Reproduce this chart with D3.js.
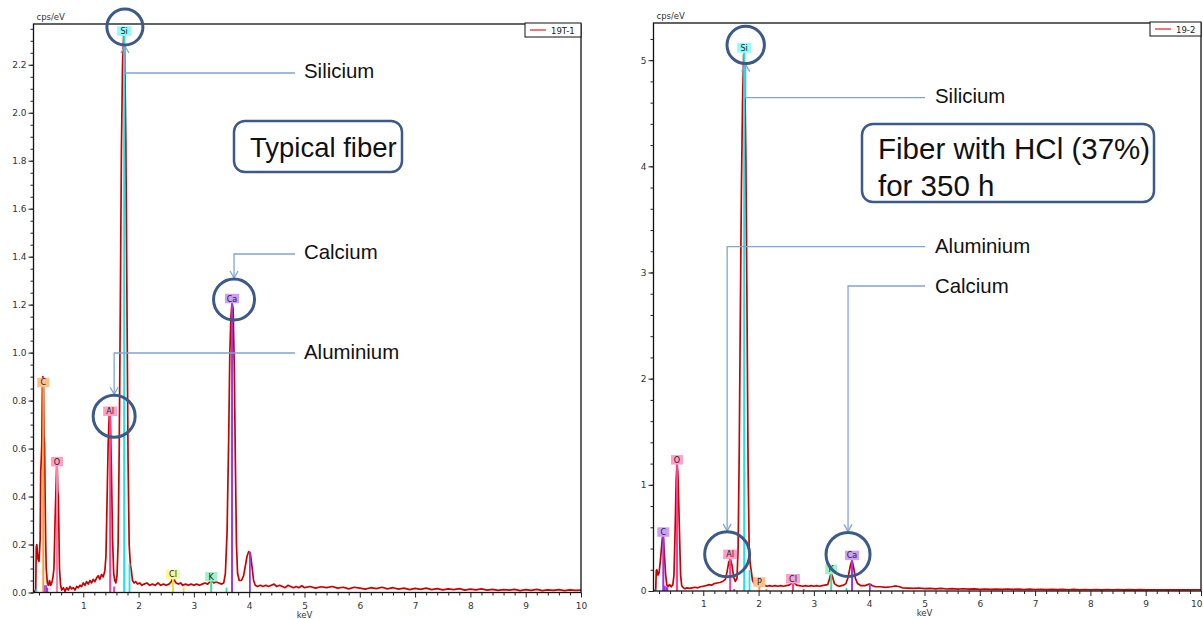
<!DOCTYPE html>
<html>
<head>
<meta charset="utf-8">
<script src="https://cdn.jsdelivr.net/npm/d3@7"></script>
<style>
body { margin: 0; background: #fff; }
svg { display: block; font-family: "DejaVu Sans", Verdana, sans-serif; }
</style>
</head>
<body>
<svg id="chart" width="1203" height="619"></svg>
<script>
// ---- data ----
var kevRange = [0.1, 10];
var kevMajor = [1, 2, 3, 4, 5, 6, 7, 8, 9, 10];

// typical fiber (19T-1): [keV, cps/eV]
var spectrumL = [[0.10,0.00],[0.14,0.01],[0.15,0.19],[0.16,0.20],[0.18,0.14],[0.20,0.13],[0.22,0.22],[0.23,0.50],[0.24,0.55],[0.25,0.62],[0.26,0.85],[0.27,0.90],[0.28,0.88],[0.29,0.65],[0.30,0.62],[0.31,0.40],[0.32,0.22],[0.33,0.10],[0.35,0.04],[0.37,0.03],[0.39,0.05],[0.41,0.03],[0.43,0.04],[0.45,0.06],[0.47,0.10],[0.49,0.30],[0.51,0.46],[0.52,0.54],[0.53,0.52],[0.54,0.42],[0.55,0.40],[0.56,0.25],[0.57,0.10],[0.59,0.03],[0.61,0.01],[0.64,0.02],[0.67,0.005],[0.70,0.02],[0.73,0.01],[0.76,0.025],[0.79,0.015],[0.82,0.02],[0.85,0.01],[0.88,0.025],[0.91,0.02],[0.94,0.03],[0.97,0.025],[1.00,0.04],[1.03,0.03],[1.06,0.045],[1.09,0.035],[1.12,0.05],[1.15,0.04],[1.18,0.055],[1.21,0.045],[1.24,0.06],[1.27,0.07],[1.30,0.055],[1.33,0.075],[1.36,0.065],[1.39,0.09],[1.41,0.15],[1.43,0.38],[1.45,0.62],[1.47,0.74],[1.49,0.72],[1.51,0.50],[1.53,0.22],[1.55,0.08],[1.57,0.05],[1.59,0.04],[1.61,0.07],[1.63,0.20],[1.65,0.60],[1.67,1.20],[1.69,1.85],[1.71,2.20],[1.73,2.32],[1.75,2.25],[1.77,1.88],[1.79,1.20],[1.81,0.55],[1.83,0.20],[1.85,0.12],[1.87,0.09],[1.89,0.05],[1.92,0.04],[1.95,0.045],[1.98,0.035],[2.02,0.04],[2.06,0.03],[2.10,0.035],[2.15,0.04],[2.20,0.03],[2.25,0.035],[2.30,0.03],[2.35,0.04],[2.40,0.03],[2.45,0.035],[2.50,0.03],[2.55,0.035],[2.59,0.045],[2.62,0.06],[2.65,0.05],[2.68,0.04],[2.72,0.035],[2.76,0.04],[2.80,0.03],[2.85,0.035],[2.90,0.03],[2.95,0.035],[3.00,0.03],[3.05,0.035],[3.10,0.03],[3.15,0.035],[3.20,0.04],[3.25,0.035],[3.29,0.045],[3.32,0.05],[3.36,0.04],[3.40,0.045],[3.45,0.04],[3.50,0.035],[3.54,0.04],[3.57,0.08],[3.60,0.25],[3.63,0.65],[3.65,1.00],[3.67,1.15],[3.69,1.21],[3.71,1.18],[3.73,0.95],[3.75,0.55],[3.77,0.20],[3.79,0.08],[3.82,0.05],[3.86,0.05],[3.90,0.07],[3.93,0.11],[3.96,0.15],[3.99,0.17],[4.02,0.165],[4.05,0.11],[4.08,0.05],[4.11,0.03],[4.15,0.025],[4.20,0.03],[4.25,0.025],[4.30,0.03],[4.35,0.025],[4.40,0.03],[4.45,0.035],[4.50,0.025],[4.55,0.03],[4.60,0.025],[4.65,0.02],[4.70,0.03],[4.75,0.025],[4.80,0.02],[4.85,0.025],[4.90,0.02],[4.95,0.028],[5.00,0.02],[5.10,0.025],[5.20,0.018],[5.30,0.024],[5.40,0.02],[5.50,0.025],[5.60,0.018],[5.70,0.022],[5.80,0.015],[5.90,0.022],[6.00,0.018],[6.10,0.014],[6.20,0.02],[6.30,0.016],[6.40,0.022],[6.50,0.015],[6.60,0.02],[6.70,0.014],[6.80,0.018],[6.90,0.012],[7.00,0.017],[7.10,0.013],[7.20,0.018],[7.30,0.012],[7.40,0.016],[7.50,0.011],[7.60,0.015],[7.70,0.012],[7.80,0.016],[7.90,0.01],[8.00,0.014],[8.10,0.011],[8.20,0.015],[8.30,0.01],[8.40,0.013],[8.50,0.009],[8.60,0.012],[8.70,0.01],[8.80,0.013],[8.90,0.008],[9.00,0.012],[9.10,0.009],[9.20,0.013],[9.30,0.008],[9.40,0.011],[9.50,0.009],[9.60,0.012],[9.70,0.008],[9.80,0.011],[9.90,0.009],[10.0,0.01]];

var elementsL = ['C', 'O', 'Al', 'Si', 'Cl', 'K', 'Ca'];
var energiesL = [0.277, 0.525, 1.486, 1.740, 2.622, 3.313, 3.690];
var heightsL = [0.86, 0.53, 0.74, 2.325, 0.06, 0.05, 1.21];
var minorEnergiesL = [0.15, 0.30, 0.33, 0.35, 1.557, 1.836, 2.815, 3.59, 4.013];
var minorHeightsL = [0.012, 0.03, 0.03, 0.02, 0.025, 0.12, 0.02, 0.02, 0.17];

// fiber after HCl (19-2): [keV, cps/eV]
var spectrumR = [[0.10,0.00],[0.14,0.01],[0.15,0.19],[0.16,0.20],[0.18,0.15],[0.20,0.17],[0.22,0.26],[0.24,0.38],[0.26,0.50],[0.27,0.52],[0.28,0.50],[0.30,0.32],[0.32,0.15],[0.34,0.06],[0.36,0.04],[0.39,0.06],[0.42,0.04],[0.45,0.06],[0.47,0.15],[0.49,0.55],[0.51,1.05],[0.525,1.20],[0.54,1.12],[0.55,0.95],[0.57,0.55],[0.59,0.15],[0.61,0.05],[0.64,0.03],[0.67,0.02],[0.70,0.03],[0.75,0.025],[0.80,0.03],[0.85,0.035],[0.90,0.03],[0.95,0.04],[1.00,0.045],[1.05,0.05],[1.10,0.06],[1.15,0.055],[1.20,0.07],[1.25,0.075],[1.30,0.08],[1.35,0.09],[1.40,0.11],[1.43,0.18],[1.46,0.27],[1.49,0.30],[1.52,0.24],[1.55,0.13],[1.58,0.09],[1.61,0.12],[1.63,0.40],[1.65,1.30],[1.67,2.60],[1.69,3.80],[1.71,4.60],[1.73,5.05],[1.75,4.90],[1.77,4.10],[1.79,2.70],[1.81,1.20],[1.83,0.40],[1.85,0.25],[1.87,0.18],[1.89,0.10],[1.92,0.07],[1.96,0.06],[2.00,0.055],[2.05,0.05],[2.10,0.055],[2.15,0.045],[2.20,0.05],[2.25,0.045],[2.30,0.05],[2.35,0.045],[2.40,0.05],[2.45,0.045],[2.50,0.05],[2.55,0.055],[2.59,0.07],[2.62,0.08],[2.65,0.075],[2.69,0.055],[2.74,0.05],[2.80,0.045],[2.85,0.05],[2.90,0.045],[2.95,0.05],[3.00,0.045],[3.05,0.05],[3.10,0.045],[3.15,0.05],[3.20,0.055],[3.25,0.06],[3.28,0.11],[3.31,0.17],[3.34,0.13],[3.37,0.07],[3.42,0.05],[3.46,0.045],[3.50,0.05],[3.54,0.055],[3.58,0.07],[3.62,0.13],[3.66,0.24],[3.69,0.29],[3.72,0.22],[3.75,0.12],[3.79,0.07],[3.85,0.05],[3.92,0.05],[3.97,0.06],[4.01,0.065],[4.06,0.05],[4.12,0.04],[4.20,0.04],[4.30,0.035],[4.40,0.04],[4.45,0.045],[4.50,0.045],[4.55,0.04],[4.60,0.03],[4.70,0.028],[4.80,0.025],[4.90,0.028],[5.00,0.022],[5.10,0.025],[5.20,0.02],[5.30,0.024],[5.40,0.019],[5.50,0.022],[5.60,0.018],[5.70,0.021],[5.80,0.017],[5.90,0.02],[6.00,0.016],[6.10,0.019],[6.20,0.015],[6.30,0.018],[6.40,0.016],[6.50,0.019],[6.60,0.015],[6.70,0.017],[6.80,0.014],[6.90,0.017],[7.00,0.014],[7.10,0.016],[7.20,0.013],[7.30,0.016],[7.40,0.013],[7.50,0.015],[7.60,0.012],[7.70,0.015],[7.80,0.012],[7.90,0.014],[8.00,0.012],[8.10,0.014],[8.20,0.011],[8.30,0.014],[8.40,0.012],[8.50,0.013],[8.60,0.011],[8.70,0.013],[8.80,0.011],[8.90,0.013],[9.00,0.011],[9.10,0.012],[9.20,0.01],[9.30,0.012],[9.40,0.011],[9.50,0.012],[9.60,0.01],[9.70,0.012],[9.80,0.011],[9.90,0.012],[10.0,0.012]];

var elementsR = ['C', 'O', 'Al', 'Si', 'P', 'Cl', 'K', 'Ca'];
var energiesR = [0.277, 0.525, 1.486, 1.740, 2.013, 2.622, 3.313, 3.690];
var heightsR = [0.52, 1.20, 0.31, 5.08, 0.05, 0.08, 0.17, 0.30];
var minorEnergiesR = [0.15, 0.30, 0.33, 0.35, 1.557, 1.836, 2.14, 2.815, 3.59, 4.013];
var minorHeightsR = [0.015, 0.05, 0.04, 0.03, 0.02, 0.2, 0.02, 0.02, 0.03, 0.065];

var legendL = '19T-1', legendR = '19-2';

// ---- styling ----
var swatch = {
  orange: ['#ff9a2e', '#ffc08d'],
  pink: ['#ff3d95', '#ff9fcb'],
  lightpink: ['#ff80ae', '#ff9fc4'],
  cyan: ['#12e6ee', '#8cfcfc'],
  yellow: ['#ece02a', '#fbf79a'],
  green: ['#3ddf95', '#9ef3c6'],
  purple: ['#9a35f5', '#cf9ef8']
};
var NOTE_BLUE = '#3c5a88', CALLOUT = '#7fa5d5';

var svg = d3.select('#chart');

function drawPanel(p) {
  var g = svg.append('g');
  var x = d3.scaleLinear().domain(kevRange).range([p.left, p.right]);
  var y = d3.scaleLinear().domain([0, p.yMax]).range([p.bottom, p.top]);

  g.append('clipPath').attr('id', p.id + '-clip')
    .append('rect').attr('x', p.left).attr('y', p.top - 2)
    .attr('width', p.right - p.left).attr('height', p.bottom - p.top + 2);
  var plot = g.append('g').attr('clip-path', 'url(#' + p.id + '-clip)');

  // spectrum
  var line = d3.line().x(function(d) { return x(d[0]); }).y(function(d) { return y(d[1]); });
  plot.append('path').datum(p.spectrum)
    .attr('d', line).attr('fill', 'none')
    .attr('stroke', '#cc0000').attr('stroke-width', 1.7)
    .attr('stroke-linejoin', 'round');

  // element marker lines
  plot.selectAll('.minor-mark').data(p.minorEnergies).enter().append('line')
    .attr('x1', function(d) { return x(d); }).attr('x2', function(d) { return x(d); })
    .attr('y1', y(0)).attr('y2', function(d, i) { return y(p.minorHeights[i]); })
    .attr('stroke', function(d, i) { return swatch[p.minorHues[i]][0]; })
    .attr('stroke-width', 1.8);
  plot.selectAll('.mark').data(p.energies).enter().append('line')
    .attr('x1', function(d) { return x(d); }).attr('x2', function(d) { return x(d); })
    .attr('y1', y(0)).attr('y2', function(d, i) { return y(p.heights[i]); })
    .attr('stroke', function(d, i) { return swatch[p.hues[i]][0]; })
    .attr('stroke-width', 2);

  // frame
  g.append('rect').attr('x', p.left).attr('y', p.top)
    .attr('width', p.right - p.left).attr('height', p.bottom - p.top)
    .attr('fill', 'none').attr('stroke', '#111').attr('stroke-width', 1.3);

  // axes
  function styleAxis(a) {
    a.select('.domain').remove();
    a.attr('font-family', '"DejaVu Sans", Verdana, sans-serif').attr('font-size', 9);
    a.selectAll('line').attr('stroke', '#222');
    a.selectAll('text').attr('fill', '#333');
  }
  var xMinor = d3.range(2, 100).map(function(v) { return v / 10; })
    .filter(function(v) { return Math.round(v * 10) % 2 === 0 && Math.round(v * 10) % 10 !== 0; });
  g.append('g').attr('transform', 'translate(0,' + p.bottom + ')')
    .call(d3.axisBottom(x).tickValues(xMinor).tickSize(3).tickFormat(''))
    .call(styleAxis);
  var xMaj = g.append('g').attr('transform', 'translate(0,' + p.bottom + ')')
    .call(d3.axisBottom(x).tickValues(kevMajor).tickSize(5).tickPadding(5).tickFormat(d3.format('d')))
    .call(styleAxis);
  if (p.clipLastTick) {
    // the last label sits on the page edge: keep it fully inside
    xMaj.selectAll('.tick').filter(function(d) { return d === 10; })
      .select('text').attr('text-anchor', 'end').attr('x', 1203 - p.right - 1);
  }
  g.append('g').attr('transform', 'translate(' + p.left + ',0)')
    .call(d3.axisLeft(y).tickValues(p.yMinor).tickSize(3).tickFormat(''))
    .call(styleAxis);
  g.append('g').attr('transform', 'translate(' + p.left + ',0)')
    .call(d3.axisLeft(y).tickValues(p.yMajor).tickSize(5).tickPadding(2).tickFormat(p.yFormat))
    .call(styleAxis);

  g.append('text').attr('x', x(5)).attr('y', p.bottom + 25)
    .attr('text-anchor', 'middle').attr('font-size', 8.5).attr('fill', '#333').text('keV');
  g.append('text').attr('x', p.left + 3).attr('y', p.top - 4)
    .attr('font-size', 8.5).attr('fill', '#333').text('cps/eV');

  // legend
  var lg = g.append('g').attr('transform', 'translate(' + (p.right - p.legendW) + ',' + (p.top - 1) + ')');
  lg.append('rect').attr('width', p.legendW).attr('height', 14)
    .attr('fill', '#fff').attr('stroke', '#111').attr('stroke-width', 1);
  lg.append('line').attr('x1', 5).attr('x2', 21).attr('y1', 7).attr('y2', 7)
    .attr('stroke', '#e03030').attr('stroke-width', 1.3);
  lg.append('text').attr('x', 26).attr('y', 10.5).attr('font-size', 8.5).attr('fill', '#222').text(p.legend);

  // element tags
  var tagPos = p.energies.map(function(e, i) {
    return { cx: x(e), cy: y(p.heights[i]) + 1 - 4.75 };
  });
  var tags = g.selectAll('.tag').data(p.elements).enter().append('g')
    .attr('transform', function(d, i) { return 'translate(' + tagPos[i].cx + ',' + tagPos[i].cy + ')'; });
  tags.append('rect')
    .attr('x', function(d) { return d.length > 1 ? -7 : -6; })
    .attr('width', function(d) { return d.length > 1 ? 14 : 12; })
    .attr('y', -4.75).attr('height', 9.5)
    .attr('fill', function(d, i) { return swatch[p.hues[i]][1]; });
  tags.append('text').attr('text-anchor', 'middle').attr('y', 3)
    .attr('font-size', 8).attr('fill', '#222').text(function(d) { return d; });

  // callouts
  p.notes.forEach(function(n) {
    var i = p.elements.indexOf(n.el);
    var cx = tagPos[i].cx + n.dx, cy = tagPos[i].cy + n.dy;
    var tipY = n.side === 'bottom' ? cy + n.r + 1 : cy - n.r - 1;
    var dir = n.side === 'bottom' ? 1 : -1;
    g.append('path')
      .attr('d', 'M' + n.lineEnd + ',' + n.lineY + 'H' + cx + 'V' + tipY)
      .attr('fill', 'none').attr('stroke', CALLOUT).attr('stroke-width', 1.3);
    g.append('path')
      .attr('d', 'M' + (cx - 4) + ',' + (tipY + dir * 7) + 'L' + cx + ',' + tipY + 'L' + (cx + 4) + ',' + (tipY + dir * 7))
      .attr('fill', 'none').attr('stroke', CALLOUT).attr('stroke-width', 1.3);
    g.append('circle').attr('cx', cx).attr('cy', cy).attr('r', n.r)
      .attr('fill', 'none').attr('stroke', NOTE_BLUE).attr('stroke-width', 3);
    g.append('text').attr('x', n.tx).attr('y', n.ty)
      .attr('font-family', '"Liberation Sans", Arial, sans-serif')
      .attr('font-size', 20.4).attr('fill', '#111').text(n.label);
  });

  // title box
  var b = p.box;
  g.append('rect').attr('x', b.x).attr('y', b.y).attr('width', b.w).attr('height', b.h)
    .attr('rx', 11).attr('fill', '#fff').attr('stroke', NOTE_BLUE).attr('stroke-width', 2.5);
  b.lines.forEach(function(t, k) {
    g.append('text').attr('x', b.tx).attr('y', b.ty + k * 37)
      .attr('font-family', '"Liberation Sans", Arial, sans-serif')
      .attr('font-size', b.size).attr('fill', '#111').text(t);
  });
}

drawPanel({
  id: 'left', left: 33.5, right: 581, top: 24, bottom: 592.5, yMax: 2.37,
  yMajor: d3.range(0, 23, 2).map(function(v) { return v / 10; }),
  yMinor: d3.range(0, 48).map(function(v) { return v * 0.05; }),
  yFormat: d3.format('.1f'),
  spectrum: spectrumL, elements: elementsL, energies: energiesL, heights: heightsL,
  hues: ['orange', 'lightpink', 'pink', 'cyan', 'yellow', 'green', 'purple'],
  minorEnergies: minorEnergiesL, minorHeights: minorHeightsL,
  minorHues: ['cyan', 'purple', 'purple', 'purple', 'pink', 'cyan', 'yellow', 'green', 'purple'],
  legend: legendL, legendW: 56,
  notes: [
    { el: 'Si', label: 'Silicium', r: 18, dx: 0.7, dy: -4, side: 'bottom', lineY: 73, lineEnd: 295, tx: 304, ty: 78 },
    { el: 'Ca', label: 'Calcium', r: 20.5, dx: 2, dy: 1, side: 'top', lineY: 254, lineEnd: 295, tx: 304, ty: 259 },
    { el: 'Al', label: 'Aluminium', r: 21, dx: 4, dy: 5, side: 'top', lineY: 353, lineEnd: 295, tx: 304, ty: 359 }
  ],
  box: { x: 234, y: 121, w: 168, h: 51, tx: 250, ty: 156.5, size: 27.5, lines: ['Typical fiber'] }
});

drawPanel({
  id: 'right', left: 653.5, right: 1201, top: 23, bottom: 591, yMax: 5.35,
  yMajor: [0, 1, 2, 3, 4, 5],
  yMinor: d3.range(0, 27).map(function(v) { return v * 0.2; }),
  yFormat: d3.format('d'),
  spectrum: spectrumR, elements: elementsR, energies: energiesR, heights: heightsR,
  hues: ['purple', 'pink', 'pink', 'cyan', 'orange', 'pink', 'green', 'purple'],
  minorEnergies: minorEnergiesR, minorHeights: minorHeightsR,
  minorHues: ['cyan', 'purple', 'purple', 'purple', 'pink', 'cyan', 'orange', 'pink', 'green', 'purple'],
  legend: legendR, legendW: 51, clipLastTick: true,
  notes: [
    { el: 'Si', label: 'Silicium', r: 18.7, dx: 1.5, dy: -3, side: 'bottom', lineY: 97.7, lineEnd: 925, tx: 935, ty: 103 },
    { el: 'Al', label: 'Aluminium', r: 22.5, dx: -3, dy: 0, side: 'top', lineY: 246.7, lineEnd: 925, tx: 935, ty: 253 },
    { el: 'Ca', label: 'Calcium', r: 22, dx: -4, dy: -1, side: 'top', lineY: 286, lineEnd: 925, tx: 935, ty: 293 }
  ],
  box: { x: 862, y: 124, w: 292, h: 78, tx: 878, ty: 158.5, size: 29.5, lines: ['Fiber with HCl (37%)', 'for 350 h'] }
});
</script>
</body>
</html>
